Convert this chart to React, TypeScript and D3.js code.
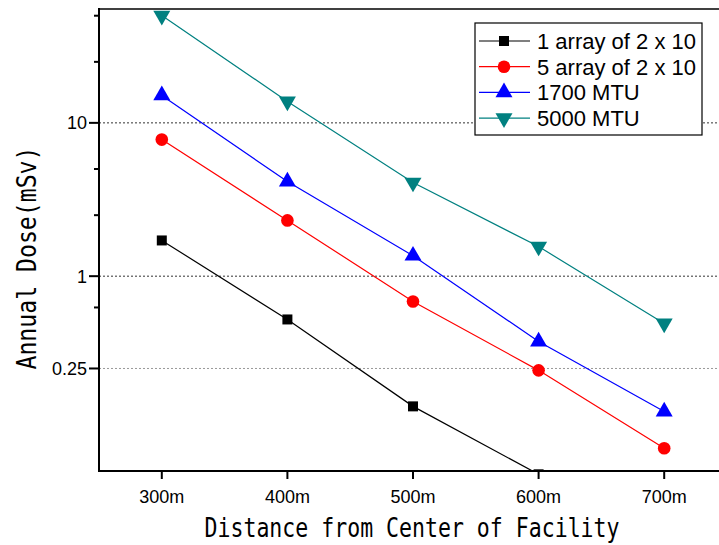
import React, { useEffect, useRef } from "react";
import * as d3 from "d3";

const distances = [300, 400, 500, 600, 700];
const xTickLabels = ["300m", "400m", "500m", "600m", "700m"];

const seriesNames = ["1 array of 2 x 10", "5 array of 2 x 10", "1700 MTU", "5000 MTU"];
const seriesColors = ["#000000", "#ff0000", "#0000ff", "#008080"];
const seriesSymbols = ["square", "circle", "triangle", "triangleDown"];

const array1 = [1.71, 0.522, 0.1415, 0.051];
const array5 = [7.78, 2.31, 0.684, 0.243, 0.0754];
const mtu1700 = [15.1, 4.14, 1.36, 0.375, 0.131];
const mtu5000 = [50.1, 13.8, 4.08, 1.56, 0.492];

const yMajorTicks = [0.25, 1, 10];
const yMinorTicks = [0.625, 2.5, 5, 25, 50];
const yTickLabels = ["0.25", "1", "10"];

const allSeries = [array1, array5, mtu1700, mtu5000];

export default function App() {
  const ref = useRef<SVGSVGElement>(null);

  useEffect(() => {
    const width = 719;
    const height = 545;
    const margin = { top: 9, right: -8, bottom: 74, left: 99 };

    const svg = d3.select(ref.current);
    svg.selectAll("*").remove();

    const x = d3.scaleLinear().domain([250, 750]).range([margin.left, width - margin.right]);
    const y = d3.scaleLog().domain([0.0536, 55.3]).range([height - margin.bottom, margin.top]);

    const left = margin.left;
    const right = width - margin.right;
    const top = margin.top;
    const bottom = height - margin.bottom;

    svg.append("defs").append("clipPath").attr("id", "plot-clip")
      .append("rect").attr("x", left).attr("y", top).attr("width", right - left).attr("height", bottom - top);

    // grid lines
    yMajorTicks.forEach((v, i) => {
      svg.append("line")
        .attr("x1", left).attr("x2", right)
        .attr("y1", y(v)).attr("y2", y(v))
        .attr("stroke", i === 0 ? "#999" : "#333")
        .attr("stroke-width", 1)
        .attr("stroke-dasharray", "2,2");
    });

    const plot = svg.append("g").attr("clip-path", "url(#plot-clip)");

    const symbolFor = (s: string) => {
      if (s === "square") return d3.symbol().type(d3.symbolSquare).size(100);
      if (s === "circle") return d3.symbol().type(d3.symbolCircle).size(125);
      return d3.symbol().type(d3.symbolTriangle).size(125);
    };

    allSeries.forEach((vals, i) => {
      const pts = vals.map((v, j) => [distances[j], v] as [number, number]);
      const line = d3.line<[number, number]>().x(d => x(d[0])).y(d => y(d[1]));
      plot.append("path")
        .attr("d", line(pts))
        .attr("fill", "none")
        .attr("stroke", seriesColors[i])
        .attr("stroke-width", 1.2);
      plot.selectAll(null).data(pts).enter().append("path")
        .attr("d", symbolFor(seriesSymbols[i])()!)
        .attr("transform", d => `translate(${x(d[0])},${y(d[1])})` + (seriesSymbols[i] === "triangleDown" ? " rotate(180)" : ""))
        .attr("fill", seriesColors[i]);
    });

    // frame
    svg.append("line").attr("x1", left).attr("x2", left).attr("y1", top - 1).attr("y2", bottom + 1)
      .attr("stroke", "#000").attr("stroke-width", 2);
    svg.append("line").attr("x1", left).attr("x2", right).attr("y1", bottom).attr("y2", bottom)
      .attr("stroke", "#000").attr("stroke-width", 2);
    svg.append("line").attr("x1", left).attr("x2", right).attr("y1", top).attr("y2", top)
      .attr("stroke", "#000").attr("stroke-width", 1.5);

    // x ticks
    distances.forEach((d, i) => {
      svg.append("line").attr("x1", x(d)).attr("x2", x(d)).attr("y1", bottom).attr("y2", bottom + 8)
        .attr("stroke", "#000").attr("stroke-width", 2);
      svg.append("text").attr("x", x(d)).attr("y", bottom + 32)
        .attr("text-anchor", "middle")
        .style("font-family", "'Liberation Sans', Arial, sans-serif")
        .style("font-size", "18px")
        .text(xTickLabels[i]);
    });

    // y ticks
    yMajorTicks.forEach((v, i) => {
      svg.append("line").attr("x1", left - 10).attr("x2", left).attr("y1", y(v)).attr("y2", y(v))
        .attr("stroke", "#000").attr("stroke-width", 2);
      svg.append("text").attr("x", left - 12).attr("y", y(v) + 6.5)
        .attr("text-anchor", "end")
        .style("font-family", "'Liberation Sans', Arial, sans-serif")
        .style("font-size", "18px")
        .text(yTickLabels[i]);
    });
    yMinorTicks.forEach(v => {
      svg.append("line").attr("x1", left - 5).attr("x2", left).attr("y1", y(v)).attr("y2", y(v))
        .attr("stroke", "#000").attr("stroke-width", 2);
    });

    // axis titles
    svg.append("text").attr("x", 412).attr("y", 537)
      .attr("text-anchor", "middle")
      .attr("textLength", 415).attr("lengthAdjust", "spacingAndGlyphs")
      .style("font-family", "'DejaVu Sans Mono', monospace")
      .style("font-size", "26px")
      .text("Distance from Center of Facility");

    svg.append("text")
      .attr("transform", `translate(36, 258) rotate(-90)`)
      .attr("text-anchor", "middle")
      .attr("textLength", 223).attr("lengthAdjust", "spacingAndGlyphs")
      .style("font-family", "'DejaVu Sans Mono', monospace")
      .style("font-size", "27px")
      .text("Annual Dose(mSv)");

    // legend
    const lg = svg.append("g");
    lg.append("rect").attr("x", 475).attr("y", 23).attr("width", 227).attr("height", 112)
      .attr("fill", "#fff").attr("stroke", "#000").attr("stroke-width", 1.2);
    seriesNames.forEach((name, i) => {
      const ry = 41 + i * 25.7;
      lg.append("line").attr("x1", 479).attr("x2", 530).attr("y1", ry).attr("y2", ry)
        .attr("stroke", seriesColors[i]).attr("stroke-width", 1.2);
      lg.append("path")
        .attr("d", symbolFor(seriesSymbols[i])()!)
        .attr("transform", `translate(504,${ry})` + (seriesSymbols[i] === "triangleDown" ? " rotate(180)" : ""))
        .attr("fill", seriesColors[i]);
      lg.append("text").attr("x", 537).attr("y", ry + 8)
        .style("font-family", "'Liberation Sans', Arial, sans-serif")
        .style("font-size", "22px")
        .text(name);
    });
  }, []);

  return (
    <svg ref={ref} width={719} height={545}
      style={{ position: "absolute", left: 0, top: 0, background: "#fff" }} />
  );
}
